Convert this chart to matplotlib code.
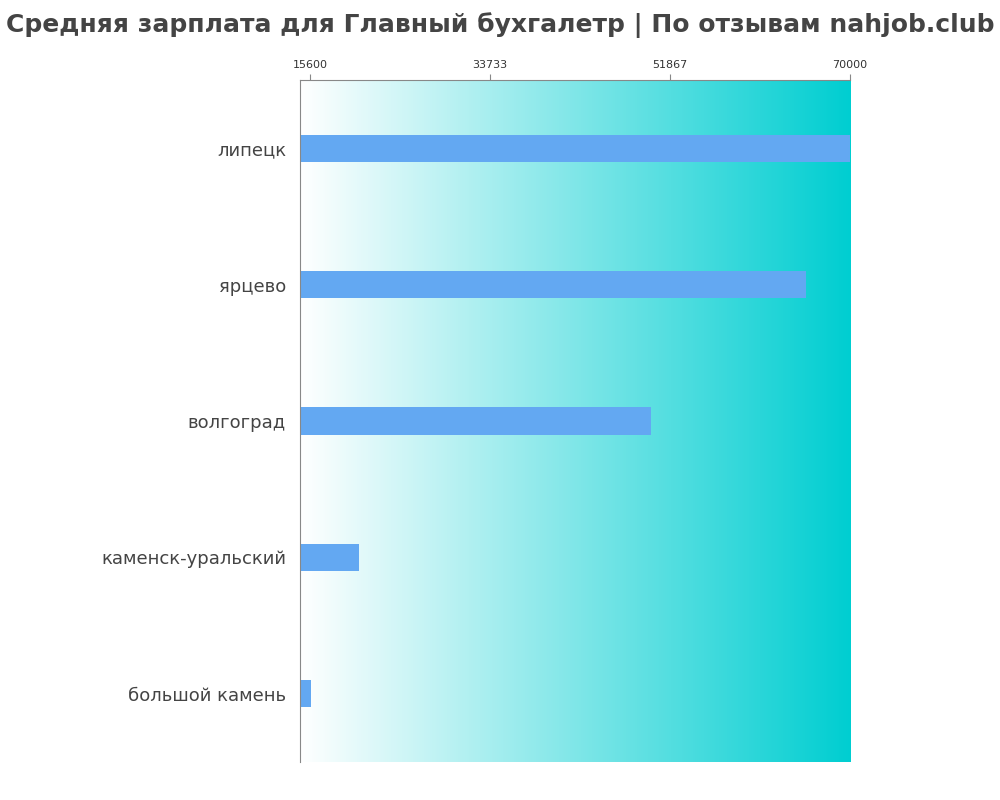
import matplotlib
matplotlib.use("Agg")
import matplotlib.pyplot as plt
import numpy as np
from matplotlib.colors import LinearSegmentedColormap

cities = ["липецк", "ярцево", "волгоград", "каменск-уральский", "большой камень"]
salaries = [70000, 65600, 50000, 20500, 15700]
tick_vals = [15600, 33733, 51867, 70000]
xmin = 14593

fig = plt.figure(figsize=(10, 8), dpi=100)
ax = fig.add_axes([0.30, 0.0475, 0.55, 0.8525])
cmap = LinearSegmentedColormap.from_list("g", ["#ffffff", "#00ced1"])
grad = np.linspace(0, 1, 256).reshape(1, -1)
ax.imshow(grad, aspect="auto", cmap=cmap, extent=[xmin, 70000, -0.5, len(cities) - 0.5], zorder=0)
y = np.arange(len(cities))
ax.barh(y, np.array(salaries) - xmin, left=xmin, height=0.2, color="#63a8f2", zorder=2)
ax.set_xlim(xmin, 70000)
ax.set_ylim(len(cities) - 0.5, -0.5)
ax.set_yticks(y)
ax.set_yticklabels(cities, fontsize=13, color="#444444")
ax.tick_params(axis="y", length=0, pad=10)
ax.xaxis.tick_top()
ax.set_xticks(tick_vals)
ax.set_xticklabels([str(v) for v in tick_vals], fontsize=8, color="#333333")
ax.tick_params(axis="x", length=4, color="#888888")
for s in ["right", "bottom"]:
    ax.spines[s].set_visible(False)
for s in ["left", "top"]:
    ax.spines[s].set_color("#888888")
fig.suptitle("Средняя зарплата для Главный бухгалетр | По отзывам nahjob.club",
             x=0.5, y=0.985, fontsize=18, fontweight="bold", color="#444444")
fig.savefig("out.png", dpi=100)
